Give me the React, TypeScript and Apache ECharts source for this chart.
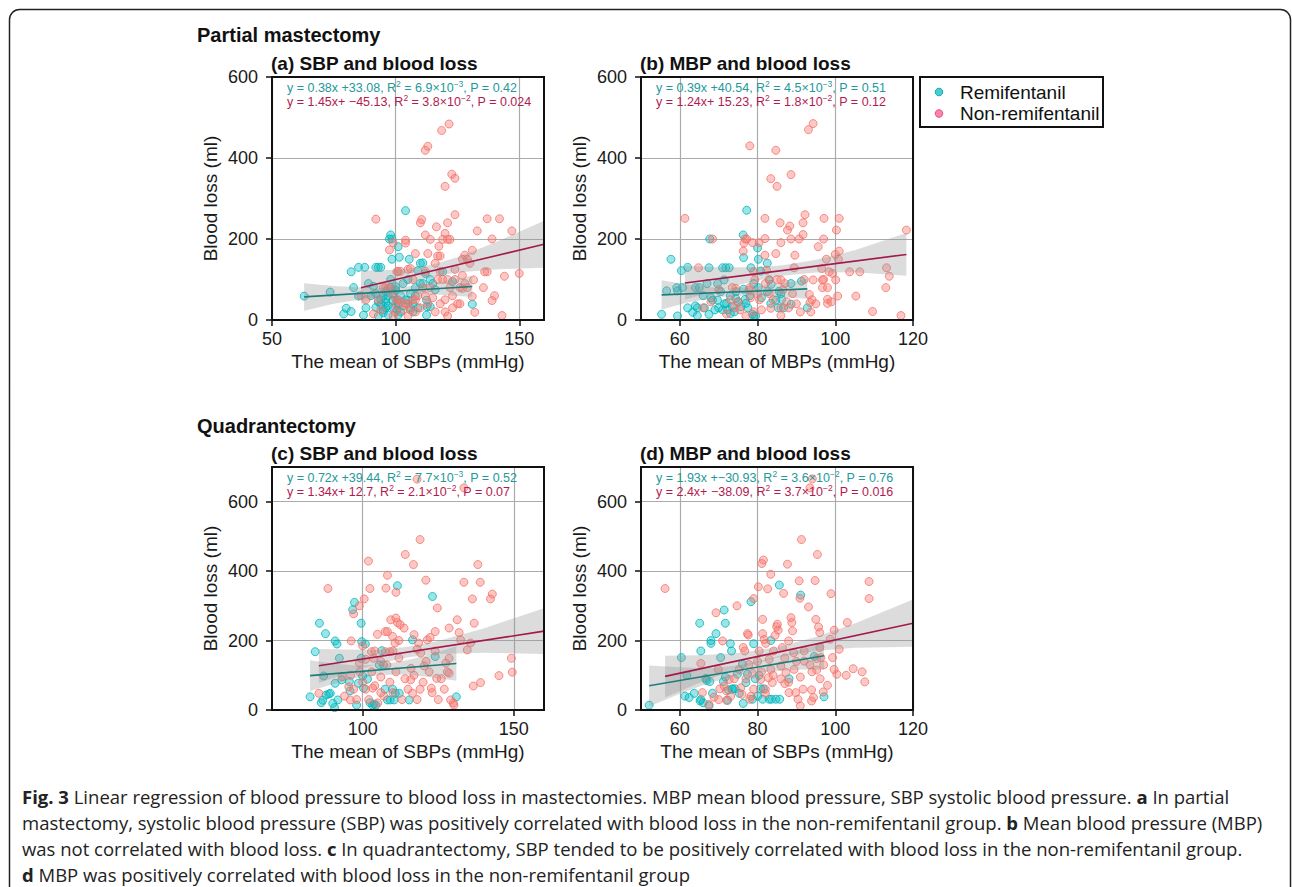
import React, { useEffect, useRef } from "react";
import * as echarts from "echarts";

// ---------- data ----------
const remiA: number[][] = [[63,59],[73.5,69],[79,15],[80,29],[82,21],[82,119],[83,80],[85,130],[87.5,130],[85,59],[87,12],[88,30],[89,90],[90,60],[91,83],[92,130],[93,130],[94,130],[92,31],[93,45],[93,10],[94,50],[94,38],[95,25],[95,60],[95,18],[96,70],[96,42],[96,52],[96,30],[97,60],[97,35],[97.5,200],[98.5,200],[98,210],[98.5,150],[98,100],[98,80],[99,48],[99,30],[99,65],[100,74],[100,82],[100.5,49],[100.5,25],[101,12],[101,181],[101.5,155],[101,40],[102,60],[102,20],[103,35],[104,270],[104,50],[105,49],[105.5,150],[105,100],[106,30],[106,65],[107,20],[107,40],[108,80],[108,60],[109,122],[110,140],[111,141],[110,90],[111,90],[112,115],[112.5,49],[112.7,33],[112.5,12],[114,33],[114,100],[115,90],[116,75],[119,119],[123,95],[131,39],[109,30],[103,90],[97,12],[92,65]];
const nonA: number[][] = [[92,249],[97.5,173],[99,191],[100.5,119],[102,120],[104,197],[104,190],[105,125],[106,127],[108,164],[110,240],[110.5,248],[112,210],[112,419],[113,429],[113,164],[114,199],[116.5,230],[117,158],[117.5,182],[118,158],[118.6,468],[121.6,484],[119,199],[120,214],[120,330],[121,240],[121,199],[122,199],[122.7,360],[124,350],[124,260],[127,150],[128,160],[131,172],[133,220],[137,250],[142,250],[139,200],[147,220],[150,115],[144,108],[136,119],[137,119],[135.5,80],[140,60],[139,48],[143,11],[132,19],[131,58],[131.5,99],[129,80],[127,78],[91,15],[93,50],[94,25],[95,80],[96,80],[97,78],[98,80],[99,60],[99,10],[100,40],[101,120],[101,50],[102,45],[103,25],[104,40],[105,40],[105,10],[106,25],[107,50],[108,50],[108,20],[109,60],[110,30],[111,80],[112,60],[113,40],[114,80],[115,55],[116,20],[117,100],[118,40],[119,100],[120,50],[120,20],[121,100],[121,10],[122,80],[123,60],[123,30],[124,100],[125,40],[126,40],[126,80],[127,110],[128,90],[129,150],[130,140],[100,20],[107,100],[112,120],[116,140],[118,120],[124,125],[86,60],[88,50]];

const remiB: number[][] = [[55.3,14],[57.7,150],[56.6,72],[59.2,80],[59.4,72],[59.4,10],[60.4,122],[60.7,80],[62,130],[62,30],[63.3,19],[64,35],[64.5,11],[64.5,30],[64,80],[65,80],[66.3,30],[67,90],[67.5,129],[67.7,200],[67.5,14],[68.4,49],[69,25],[69.7,49],[69.7,90],[70.5,70],[71,129],[71.4,99],[71.8,129],[72.7,129],[71,25],[72,41],[72.3,25],[73,16],[73.5,33],[74.4,53],[74.4,70],[75.7,33],[76.4,76],[76.3,210],[76.4,154],[76.8,51],[77,41],[77.5,30],[77.2,271],[78.3,129],[78.7,14],[79,10],[79.5,10],[79,90],[80,178],[80.2,150],[80.2,80],[80.8,121],[82.5,140],[83,99],[82.5,70],[83.4,41],[84.7,49],[85.3,30],[85.5,71],[86,65],[86.2,51],[86.7,30],[88.6,90],[88.6,39],[91.3,96],[92.8,30],[70,30],[71.5,40],[73,60],[74,20],[68,55],[66,60],[75,45],[78,60],[81,55],[83.5,88]];
const nonB: number[][] = [[61.3,251],[68.4,200],[64.8,129],[74.4,78],[73.5,80],[76.3,170],[76.5,190],[76.8,200],[77.2,200],[78,430],[78.7,191],[79,119],[79.3,99],[77.8,74],[78.2,55],[80.4,191],[81.9,201],[81.9,251],[81.9,160],[82.3,123],[83,99],[83.4,349],[83.4,29],[84.7,419],[85,330],[84.7,164],[85.8,240],[86,191],[86,99],[86,30],[86,11],[87.7,222],[88.3,232],[88.6,200],[88.6,359],[89.4,129],[89.6,160],[90.7,200],[91.7,211],[91.7,240],[92.2,260],[93.1,470],[94.3,485],[93.3,63],[93.5,43],[93.7,20],[94.3,99],[95.6,181],[96.5,127],[96.7,99],[96.7,80],[97,200],[97.1,251],[97.7,150],[98,80],[98,51],[98,41],[98.4,119],[99.3,115],[100,162],[100.1,99],[101,170],[100.8,150],[101,251],[100.3,222],[100.6,59],[103.7,119],[106.3,119],[105.3,59],[109.6,21],[113,80],[113.2,129],[113.9,108],[116.9,11],[118.3,222],[66,30],[68,45],[70,75],[72,15],[73,50],[74,30],[75,45],[75.5,25],[77,10],[78,80],[79,20],[80,65],[80.5,50],[81,25],[82,90],[83,65],[84,50],[85,100],[86.5,75],[87,90],[87.5,45],[88,30],[89,65],[90,40],[91,20],[92,100],[94,50],[95,40],[97,100],[99,45]];

const remiC: number[][] = [[82.6,38],[84.3,168],[85.7,250],[86.3,21],[86.8,28],[87.1,98],[87.7,220],[87.9,43],[88.8,46],[89.3,48],[90.1,19],[90.7,7],[90.9,77],[90.9,199],[91.5,190],[91.8,29],[92.3,149],[93.1,87],[95.6,82],[95.8,55],[96.7,289],[97.3,310],[98,14],[98.6,77],[99.5,149],[99.5,250],[99.7,197],[100,98],[100.3,63],[100.9,190],[101.6,89],[102.4,21],[103.3,14],[103.8,17],[104.4,14],[105.5,130],[106.3,171],[106.9,130],[107.4,60],[108.2,29],[109.1,29],[109.9,60],[110.4,29],[110.8,48],[111.5,358],[112.1,48],[115.4,29],[116.5,202],[123.1,327],[124,154],[131,38]];
const nonC: number[][] = [[85.5,48],[88.5,350],[93.2,96],[95.4,67],[95.9,29],[96.2,199],[97,277],[98.9,300],[98.9,135],[100,185],[100.5,320],[101,146],[101.9,429],[102.4,350],[102.9,168],[103.3,63],[103.6,149],[104.9,218],[106,50],[107.5,226],[107.5,168],[107.7,351],[108.2,226],[108.2,388],[109,168],[109.3,260],[109.9,212],[110.7,193],[111,265],[111,339],[111.5,252],[112.4,246],[113.7,236],[114.1,448],[116.8,419],[117,217],[115.9,87],[116.5,48],[118.5,193],[119,491],[119.2,164],[120.3,127],[120.9,374],[121.4,202],[122.3,209],[122.7,63],[124,226],[124.7,294],[124.5,91],[127.5,135],[128.6,149],[128.6,236],[128.6,106],[129.1,29],[131.3,260],[131.9,223],[132.4,202],[130.2,14],[133.5,368],[134.6,173],[135.7,193],[136.3,320],[136.6,69],[136.9,250],[138.1,419],[138.9,368],[139,79],[142.3,320],[142.9,334],[145.1,99],[149.2,149],[149.5,109],[118,665],[133.5,640],[94,40],[96,100],[97,60],[98,30],[99,110],[100,80],[101,60],[102,30],[103,110],[104,70],[105,20],[106,95],[107,40],[108,130],[109,80],[110,50],[111,110],[112,150],[113,30],[114,90],[115,60],[116,120],[117,100],[118,30],[119,60],[120,80],[121,140],[122,110],[123,50],[124,170],[125,30],[126,90],[127,60],[128,110],[130,20],[104,170],[110,170],[118,175],[112,200],[106,140]];

const remiD: number[][] = [[52.1,14],[60.4,151],[61.3,40],[61.8,100],[62.4,36],[63.7,48],[65.1,250],[65.2,26],[65.4,30],[65.4,170],[66,21],[66.7,91],[66.9,85],[67.7,82],[67.5,12],[68,192],[68,200],[68.4,48],[69.3,220],[70.5,151],[71.2,82],[71.4,288],[71.7,250],[71.7,95],[72.3,28],[72.5,58],[73,191],[73.3,170],[73.4,60],[73.6,61],[74.2,61],[74.8,103],[75.3,48],[76.1,132],[76.3,19],[77,79],[77.4,103],[78.3,312],[78.7,31],[79,191],[79.4,90],[80,40],[80.4,100],[80.8,61],[81.3,31],[81.5,61],[83,31],[83.4,200],[83.6,31],[84.7,31],[85.6,360],[85.7,31],[88.1,90],[91.1,331],[94.6,154],[97.1,38]];
const nonD: number[][] = [[56.2,350],[65.4,134],[65.8,50],[67.5,16],[68.8,37],[69.3,280],[69.9,117],[70.3,61],[71,199],[71.4,69],[72,28],[72.7,88],[73.1,40],[74.7,300],[75.3,117],[75.7,64],[76.3,180],[76.7,170],[77.4,220],[77.6,216],[77.8,131],[78,31],[78.3,40],[78.7,105],[79,321],[80.2,355],[80.4,170],[80.8,88],[81.1,422],[81.5,432],[81.3,261],[81.3,220],[81.7,203],[82,48],[82.1,192],[82.6,349],[82.8,93],[83,146],[83.4,391],[83.4,117],[83.8,79],[84.1,170],[84.5,215],[84.9,240],[85.1,247],[85.3,230],[86,127],[86.4,180],[86.7,336],[87,76],[87.3,108],[87.7,420],[88,199],[88.1,50],[88.6,266],[88.8,252],[89,228],[89.3,165],[89.4,117],[89.8,50],[90.4,31],[90.7,372],[90.9,322],[91,12],[91.3,491],[91.7,60],[92,141],[93.1,297],[93.5,130],[93.9,58],[93.9,26],[94.4,36],[94.8,373],[95,261],[95.2,148],[95.2,115],[95.4,448],[95.7,239],[96,223],[96.1,90],[96.3,151],[96.9,52],[98,71],[98.7,204],[98.9,335],[99.3,151],[99.7,230],[99.7,117],[100.4,103],[101,175],[103.1,252],[102.8,100],[104.6,119],[106.9,110],[107.6,81],[108.7,321],[108.7,370],[94.1,666],[93.5,640],[70,30],[72,55],[74,90],[76,45],[77,90],[79,60],[80,140],[81,110],[82,60],[84,100],[86,90],[87,150],[88,80],[90,140],[91,95],[92,170],[94,110],[96,180],[97,130]];

// regression lines: [slope, intercept, xFrom, xTo]
const fitRemi: number[][] = [[0.38, 33.08, 63, 131], [0.39, 40.54, 55.3, 92.8], [0.72, 39.44, 82.6, 131], [1.93, -30.93, 52.1, 97.1]];
const fitNon: number[][] = [[1.45, -45.13, 86, 160], [1.24, 15.23, 61.3, 118.3], [1.34, 12.7, 85.5, 160], [2.4, -38.09, 56.2, 120]];

// confidence bands: [x, lower, upper]
const bandRemiA: number[][] = [[63,23,91],[75,40,84],[90,55,79],[100,62,80],[110,64,86],[120,62,96],[131,57,109]];
const bandNonA: number[][] = [[86,38,122],[95,63,123],[105,88,126],[115,107,137],[125,117,155],[140,125,191],[160,129,245]];
const bandRemiB: number[][] = [[55.3,26,98],[62,43,87],[70,57,79],[78,61,81],[86,58,90],[92.8,52,102]];
const bandNonB: number[][] = [[61.3,50,134],[70,74,130],[80,98,130],[87,110,136],[95,117,149],[105,118,172],[118.3,109,215]];
const bandRemiC: number[][] = [[82.6,55,143],[90,74,134],[98,92,128],[106,101,131],[114,102,142],[122,95,159],[131,84,184]];
const bandNonC: number[][] = [[85.5,78,176],[95,106,174],[105,133,173],[115,152,182],[125,161,199],[140,165,235],[160,161,293]];
const bandRemiD: number[][] = [[52.1,10,128],[60,47,123],[68,80,120],[76,102,130],[84,111,151],[91,117,173],[97.1,116,196]];
const bandNonD: number[][] = [[56.2,36,156],[65,78,158],[75,120,164],[85,151,181],[95,170,210],[105,179,249],[120,182,318]];

const xMin = [50, 50, 70, 50];
const xMax = [160, 120, 160, 120];
const xTicks = [[50, 100, 150], [60, 80, 100, 120], [100, 150], [60, 80, 100, 120]];
const yMax = [600, 600, 700, 700];
const yTicks = [0, 200, 400, 600];

const sectionTitles = ["Partial mastectomy", "Quadrantectomy"];
const panelTitles = ["(a) SBP and blood loss", "(b) MBP and blood loss", "(c) SBP and blood loss", "(d) MBP and blood loss"];
const xTitles = ["The mean of SBPs (mmHg)", "The mean of MBPs (mmHg)", "The mean of SBPs (mmHg)", "The mean of SBPs (mmHg)"];
const yTitle = "Blood loss (ml)";
const legendLabels = ["Remifentanil", "Non-remifentanil"];
const eqRemi = [
  "y = 0.38x +33.08, R^2^ = 6.9×10^−3^, P = 0.42",
  "y = 0.39x +40.54, R^2^ = 4.5×10^−3^, P = 0.51",
  "y = 0.72x +39.44, R^2^ = 7.7×10^−3^, P = 0.52",
  "y = 1.93x +−30.93, R^2^ = 3.6×10^−2^, P = 0.76",
];
const eqNon = [
  "y = 1.45x+ −45.13, R^2^ = 3.8×10^−2^, P = 0.024",
  "y = 1.24x+ 15.23, R^2^ = 1.8×10^−2^, P = 0.12",
  "y = 1.34x+ 12.7, R^2^ = 2.1×10^−2^, P = 0.07",
  "y = 2.4x+ −38.09, R^2^ = 3.7×10^−2^, P = 0.016",
];
const captionLines = [
  "*Fig. 3* Linear regression of blood pressure to blood loss in mastectomies. MBP mean blood pressure, SBP systolic blood pressure. *a* In partial",
  "mastectomy, systolic blood pressure (SBP) was positively correlated with blood loss in the non-remifentanil group. *b* Mean blood pressure (MBP)",
  "was not correlated with blood loss. *c* In quadrantectomy, SBP tended to be positively correlated with blood loss in the non-remifentanil group.",
  "*d* MBP was positively correlated with blood loss in the non-remifentanil group",
];

// ---------- layout / style ----------
const W = 1292;
const H = 887;
const PW = 272;
const PH = 243;
const pos = [[272, 77], [641, 77], [272, 467], [641, 467]];
const FONT = "Liberation Sans, Arial, sans-serif";
const TEAL_PT = "rgba(0,191,196,0.5)";
const TEAL_PT_B = "rgba(0,178,184,0.95)";
const RED_PT = "rgba(248,118,109,0.5)";
const RED_PT_B = "rgba(244,112,104,0.95)";
const TEAL_LINE = "#1c7d7b";
const RED_LINE = "#a3194b";
const TEAL_TXT = "#23999a";
const RED_TXT = "#b21a50";
const BAND = "rgba(150,150,150,0.33)";

function richify(s: string, a: string, b: string) {
  return s
    .split(/[\^*]/)
    .map((seg, k) => (seg ? `{${k % 2 ? b : a}|${seg}}` : ""))
    .join("");
}

export default function App() {
  const ref = useRef<HTMLDivElement>(null);
  useEffect(() => {
    if (!ref.current) return;
    const chart = echarts.init(ref.current, null, { renderer: "svg", width: W, height: H });
    const remi = [remiA, remiB, remiC, remiD];
    const non = [nonA, nonB, nonC, nonD];
    const bandsR = [bandRemiA, bandRemiB, bandRemiC, bandRemiD];
    const bandsN = [bandNonA, bandNonB, bandNonC, bandNonD];

    const grids = pos.map(([l, t]) => ({ left: l, top: t, width: PW, height: PH, outerBoundsMode: "none", containLabel: false }));
    const tickStyle = { show: true, length: 6, lineStyle: { color: "#111", width: 1.5 } };
    const labStyle = { fontSize: 18, color: "#1a1a1a", fontFamily: FONT };
    const split = { show: true, lineStyle: { color: "#ababab", width: 1.2 } };
    const xAxis = pos.map((_, i) => ({
      type: "value", gridIndex: i, min: xMin[i], max: xMax[i],
      axisLine: { show: false },
      axisTick: { ...tickStyle, customValues: xTicks[i] },
      axisLabel: { ...labStyle, margin: 10, customValues: xTicks[i] },
      splitLine: split,
    }));
    const yAxis = pos.map((_, i) => ({
      type: "value", gridIndex: i, min: 0, max: yMax[i],
      axisLine: { show: false },
      axisTick: { ...tickStyle, customValues: yTicks },
      axisLabel: { ...labStyle, margin: 14, customValues: yTicks },
      splitLine: split,
    }));

    const series: any[] = [];
    const bandSeries = (b: number[][], i: number) => ({
      type: "custom", xAxisIndex: i, yAxisIndex: i, silent: true, clip: true, z: 3,
      data: [[b[0][0], b[0][1]]],
      renderItem: (_p: any, api: any) => {
        const up = b.map((r) => api.coord([r[0], r[2]]));
        const lo = b.slice().reverse().map((r) => api.coord([r[0], r[1]]));
        return { type: "polygon", shape: { points: up.concat(lo) }, style: { fill: BAND } };
      },
    });
    const lineSeries = (f: number[], i: number, color: string) => ({
      type: "line", xAxisIndex: i, yAxisIndex: i, silent: true, z: 4, symbol: "none", showSymbol: false,
      data: [[f[2], f[0] * f[2] + f[1]], [f[3], f[0] * f[3] + f[1]]],
      lineStyle: { color, width: 1.6 },
    });
    for (let i = 0; i < 4; i++) {
      series.push({ type: "scatter", name: legendLabels[0], xAxisIndex: i, yAxisIndex: i, data: remi[i], symbolSize: 8, z: 2,
        itemStyle: { color: TEAL_PT, borderColor: TEAL_PT_B, borderWidth: 1 } });
      series.push({ type: "scatter", name: legendLabels[1], xAxisIndex: i, yAxisIndex: i, data: non[i], symbolSize: 8, z: 2,
        itemStyle: { color: RED_PT, borderColor: RED_PT_B, borderWidth: 1 } });
      series.push(bandSeries(bandsR[i], i));
      series.push(bandSeries(bandsN[i], i));
      series.push(lineSeries(fitRemi[i], i, TEAL_LINE));
      series.push(lineSeries(fitNon[i], i, RED_LINE));
    }

    const g: any[] = [];
    g.push({ type: "rect", shape: { x: 9.5, y: 9.5, width: 1281, height: 930, r: 10 }, style: { fill: "none", stroke: "#222", lineWidth: 1.5 }, z: 0 });
    sectionTitles.forEach((t, k) => {
      g.push({ type: "text", x: 197, y: k === 0 ? 35 : 426, z: 50,
        style: { text: t, fontSize: 20, fontWeight: "bold", fontFamily: FONT, fill: "#111", align: "left", verticalAlign: "middle" } });
    });
    pos.forEach(([l, t], i) => {
      g.push({ type: "rect", shape: { x: l, y: t, width: PW, height: PH }, style: { fill: "none", stroke: "#111", lineWidth: 2 }, z: 100 });
      g.push({ type: "text", x: l - 1, y: t - 13.5, z: 50,
        style: { text: panelTitles[i], fontSize: 19, fontWeight: "bold", fontFamily: FONT, fill: "#111", align: "left", verticalAlign: "middle" } });
      g.push({ type: "text", x: l + PW / 2, y: t + PH + 41, z: 50,
        style: { text: xTitles[i], fontSize: 19, fontFamily: FONT, fill: "#1a1a1a", align: "center", verticalAlign: "middle" } });
      g.push({ type: "text", x: l - 62, y: t + PH / 2, rotation: Math.PI / 2, z: 50,
        style: { text: yTitle, fontSize: 19, fontFamily: FONT, fill: "#1a1a1a", align: "center", verticalAlign: "middle" } });
      [eqRemi[i], eqNon[i]].forEach((eq, k) => {
        const c = k === 0 ? TEAL_TXT : RED_TXT;
        g.push({ type: "text", x: l + 15, y: t + 10.5 + k * 14, z: 60,
          style: { text: richify(eq, "n", "s"), align: "left", verticalAlign: "middle",
            rich: {
              n: { fontSize: 12.5, fontFamily: FONT, fill: c, lineHeight: 17 },
              s: { fontSize: 8.5, fontFamily: FONT, fill: c, lineHeight: 9, verticalAlign: "top" },
            } } });
      });
    });
    // legend
    g.push({ type: "rect", shape: { x: 920, y: 77, width: 183, height: 50 }, style: { fill: "#fff", stroke: "#111", lineWidth: 2 }, z: 100 });
    g.push({ type: "circle", shape: { cx: 939, cy: 92, r: 3.8 }, style: { fill: "#44cfd0", stroke: "#1aa6aa", lineWidth: 1 }, z: 101 });
    g.push({ type: "circle", shape: { cx: 939, cy: 113.5, r: 3.8 }, style: { fill: "#ff82ad", stroke: "#e4507f", lineWidth: 1 }, z: 101 });
    legendLabels.forEach((t, k) => {
      g.push({ type: "text", x: 960, y: k === 0 ? 92 : 113.5, z: 101,
        style: { text: t, fontSize: 19, fontFamily: FONT, fill: "#111", align: "left", verticalAlign: "middle" } });
    });
    // caption
    captionLines.forEach((line, k) => {
      g.push({ type: "text", x: 22, y: 796 + k * 26, z: 50,
        style: { text: richify(line, "n", "b"), align: "left", verticalAlign: "middle",
          rich: {
            n: { fontSize: 18.5, fontFamily: "Open Sans", fill: "#222" },
            b: { fontSize: 18.5, fontFamily: "Open Sans", fontWeight: "bold", fill: "#222" },
          } } });
    });

    chart.setOption({
      animation: false,
      backgroundColor: "#fff",
      grid: grids,
      xAxis,
      yAxis,
      series,
      graphic: { elements: g },
    });
    return () => chart.dispose();
  }, []);
  return <div ref={ref} style={{ position: "absolute", left: 0, top: 0, width: W, height: H }} />;
}
